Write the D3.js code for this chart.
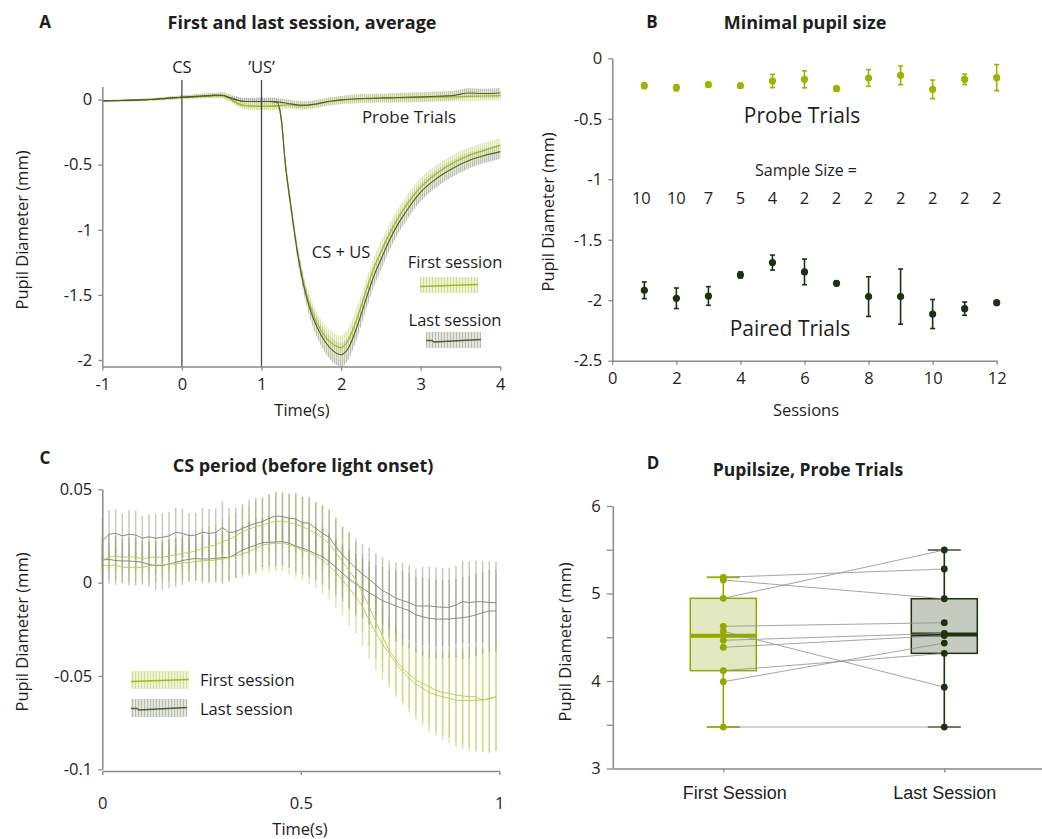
<!DOCTYPE html>
<html><head><meta charset="utf-8">
<script src="https://cdn.jsdelivr.net/npm/d3@7"></script>
<style>
body{margin:0;background:#fff;}
svg{display:block;}
</style></head><body>
<svg id="fig" width="1042" height="839" xmlns="http://www.w3.org/2000/svg"></svg>
<script>
// ---------------- DATA ----------------
// Panel A: average traces (time in s, pupil diameter in mm)
const aTime = [-1, -0.8, -0.6, -0.4, -0.2, 0, 0.2, 0.4, 0.5, 0.6, 0.7, 0.8, 1.0, 1.1, 1.2,
  1.25, 1.3, 1.35, 1.4, 1.45, 1.5, 1.55, 1.6, 1.65, 1.7,
  1.8, 1.9, 2.0, 2.1, 2.2, 2.3, 2.4, 2.5, 2.6, 2.7, 2.8,
  3.0, 3.2, 3.4, 3.6, 3.8, 4.0];
const aProbeFirst = [-0.010, -0.008, -0.005, 0.000, 0.008, 0.016, 0.022, 0.030, 0.030, 0.008, -0.030, -0.048, -0.052, -0.052, -0.050,
  -0.046, -0.042, -0.040, -0.043, -0.047, -0.049, -0.048, -0.045, -0.040, -0.035,
  -0.022, -0.012, -0.005, 0.000, 0.004, 0.006, 0.008, 0.010, 0.011, 0.012, 0.013,
  0.015, 0.018, 0.020, 0.024, 0.027, 0.030];
const aProbeLast = [-0.010, -0.008, -0.005, 0.000, 0.009, 0.018, 0.025, 0.032, 0.033, 0.015, -0.005, -0.015, -0.015, -0.015, -0.018,
  -0.022, -0.027, -0.032, -0.037, -0.041, -0.043, -0.043, -0.041, -0.037, -0.032,
  -0.020, -0.010, -0.003, 0.002, 0.006, 0.008, 0.010, 0.012, 0.013, 0.015, 0.017,
  0.020, 0.025, 0.030, 0.050, 0.046, 0.050];
const aPairedFirst = [-0.010, -0.008, -0.005, 0.000, 0.008, 0.016, 0.022, 0.030, 0.030, 0.008, -0.030, -0.048, -0.052, -0.052, -0.045,
  -0.15, -0.49, -0.73, -0.95, -1.16, -1.32, -1.46, -1.56, -1.65, -1.72,
  -1.82, -1.88, -1.905, -1.835, -1.68, -1.494, -1.31, -1.17, -1.04, -0.927, -0.83,
  -0.673, -0.568, -0.49, -0.431, -0.39, -0.35];
const aPairedLast = [-0.010, -0.008, -0.005, 0.000, 0.009, 0.018, 0.025, 0.032, 0.033, 0.015, -0.005, -0.015, -0.015, -0.015, -0.025,
  -0.16, -0.50, -0.74, -0.96, -1.17, -1.34, -1.48, -1.59, -1.68, -1.75,
  -1.86, -1.93, -1.96, -1.898, -1.745, -1.558, -1.374, -1.23, -1.09, -0.972, -0.875,
  -0.711, -0.606, -0.529, -0.47, -0.43, -0.40];
const aErrProbe = [0.006, 0.007, 0.008, 0.009, 0.010, 0.012, 0.015, 0.018, 0.020, 0.022, 0.024, 0.026, 0.028, 0.029, 0.030,
  0.030, 0.030, 0.030, 0.030, 0.030, 0.030, 0.030, 0.030, 0.030, 0.030,
  0.030, 0.030, 0.031, 0.031, 0.032, 0.032, 0.033, 0.033, 0.034, 0.034, 0.035,
  0.035, 0.036, 0.036, 0.037, 0.037, 0.038];
const aErrPaired = [0.006, 0.007, 0.008, 0.009, 0.010, 0.012, 0.015, 0.018, 0.020, 0.022, 0.024, 0.026, 0.028, 0.029, 0.030,
  0.035, 0.040, 0.045, 0.050, 0.055, 0.060, 0.065, 0.070, 0.075, 0.080,
  0.085, 0.090, 0.092, 0.090, 0.088, 0.085, 0.082, 0.080, 0.078, 0.076, 0.074,
  0.070, 0.067, 0.064, 0.061, 0.058, 0.055];
const aXTicks = [-1, 0, 1, 2, 3, 4];
const aYTicks = [0, -0.5, -1, -1.5, -2];

// Panel B: minimal pupil size per session
const bSessions = [1, 2, 3, 4, 5, 6, 7, 8, 9, 10, 11, 12];
const bProbeMean = [-0.227, -0.243, -0.218, -0.227, -0.188, -0.174, -0.251, -0.163, -0.141, -0.257, -0.174, -0.160];
const bProbeErr = [0.023, 0.025, 0.020, 0.020, 0.055, 0.070, 0.020, 0.069, 0.077, 0.077, 0.043, 0.108];
const bPairedMean = [-1.918, -1.984, -1.965, -1.791, -1.689, -1.766, -1.860, -1.970, -1.970, -2.114, -2.070, -2.020];
const bPairedErr = [0.069, 0.085, 0.077, 0.025, 0.062, 0.106, 0.020, 0.164, 0.228, 0.120, 0.055, 0.005];
const bSampleSize = [10, 10, 7, 5, 4, 2, 2, 2, 2, 2, 2, 2];
const bXTicks = [0, 2, 4, 6, 8, 10, 12];
const bYTicks = [0, -0.5, -1, -1.5, -2, -2.5];

// Panel C: CS period, 60 samples between 0 and 1 s
const cSamples = 60;
const cLastA = [0.0223, 0.0259, 0.0264, 0.0250, 0.0259, 0.0255, 0.0238, 0.0246, 0.0238, 0.0243,
  0.0250, 0.0270, 0.0264, 0.0252, 0.0255, 0.0270, 0.0264, 0.0268, 0.0295, 0.0268,
  0.0273, 0.0291, 0.0304, 0.0318, 0.0327, 0.0345, 0.0357, 0.0354, 0.0345, 0.0341,
  0.0321, 0.0318, 0.0291, 0.0264, 0.0243, 0.0193, 0.0148, 0.0113, 0.0077, 0.0045,
  0.0018, -0.0013, -0.0043, -0.0061, -0.0084, -0.0096, -0.0107, -0.0125, -0.0125, -0.0125,
  -0.0129, -0.0132, -0.0132, -0.0120, -0.0102, -0.0107, -0.0102, -0.0102, -0.0107, -0.0107];
const cLastB = [0.0121, 0.0125, 0.0118, 0.0116, 0.0116, 0.0113, 0.0109, 0.0098, 0.0091, 0.0091,
  0.0100, 0.0109, 0.0118, 0.0125, 0.0129, 0.0127, 0.0127, 0.0130, 0.0134, 0.0134,
  0.0154, 0.0175, 0.0188, 0.0202, 0.0214, 0.0216, 0.0218, 0.0220, 0.0211, 0.0196,
  0.0184, 0.0171, 0.0154, 0.0139, 0.0113, 0.0082, 0.0050, 0.0020, -0.0007, -0.0030,
  -0.0054, -0.0075, -0.0096, -0.0111, -0.0125, -0.0138, -0.0150, -0.0173, -0.0182, -0.0191,
  -0.0195, -0.0195, -0.0195, -0.0191, -0.0188, -0.0182, -0.0173, -0.0161, -0.0152, -0.0152];
const cFirstA = [0.0121, 0.0136, 0.0143, 0.0136, 0.0136, 0.0139, 0.0125, 0.0136, 0.0136, 0.0136,
  0.0143, 0.0148, 0.0157, 0.0161, 0.0170, 0.0184, 0.0193, 0.0202, 0.0220, 0.0232,
  0.0250, 0.0273, 0.0286, 0.0300, 0.0309, 0.0321, 0.0327, 0.0330, 0.0321, 0.0313,
  0.0300, 0.0282, 0.0264, 0.0238, 0.0207, 0.0161, 0.0113, 0.0064, 0.0014, -0.0057,
  -0.0129, -0.0209, -0.0289, -0.0361, -0.0414, -0.0459, -0.0491, -0.0521, -0.0539, -0.0557,
  -0.0579, -0.0588, -0.0593, -0.0602, -0.0607, -0.0611, -0.0611, -0.0629, -0.0623, -0.0611];
const cFirstB = [0.0095, 0.0089, 0.0095, 0.0082, 0.0082, 0.0082, 0.0082, 0.0089, 0.0095, 0.0095,
  0.0100, 0.0100, 0.0107, 0.0107, 0.0113, 0.0118, 0.0118, 0.0121, 0.0127, 0.0134,
  0.0143, 0.0154, 0.0166, 0.0184, 0.0202, 0.0207, 0.0211, 0.0211, 0.0202, 0.0189,
  0.0175, 0.0161, 0.0143, 0.0121, 0.0089, 0.0054, 0.0014, -0.0030, -0.0075, -0.0129,
  -0.0200, -0.0268, -0.0330, -0.0379, -0.0432, -0.0477, -0.0513, -0.0543, -0.0566, -0.0589,
  -0.0602, -0.0611, -0.0620, -0.0629, -0.0632, -0.0632, -0.0629, -0.0629, -0.0620, -0.0611];
const cErrLast = [0.012, 0.013, 0.013, 0.012, 0.013, 0.013, 0.012, 0.012, 0.013, 0.013,
  0.013, 0.013, 0.013, 0.012, 0.012, 0.013, 0.013, 0.013, 0.014, 0.013,
  0.013, 0.013, 0.014, 0.014, 0.013, 0.013, 0.013, 0.013, 0.013, 0.014,
  0.014, 0.014, 0.014, 0.015, 0.015, 0.015, 0.015, 0.016, 0.016, 0.016,
  0.017, 0.017, 0.018, 0.018, 0.019, 0.020, 0.020, 0.020, 0.021, 0.021,
  0.021, 0.021, 0.021, 0.021, 0.022, 0.022, 0.022, 0.022, 0.022, 0.022];
const cErrFirst = [0.007, 0.007, 0.008, 0.008, 0.008, 0.008, 0.008, 0.009, 0.009, 0.009,
  0.009, 0.009, 0.010, 0.010, 0.010, 0.011, 0.011, 0.011, 0.012, 0.012,
  0.012, 0.013, 0.013, 0.014, 0.014, 0.015, 0.015, 0.015, 0.016, 0.016,
  0.016, 0.017, 0.017, 0.018, 0.018, 0.019, 0.019, 0.020, 0.020, 0.021,
  0.021, 0.020, 0.019, 0.018, 0.018, 0.018, 0.018, 0.019, 0.020, 0.021,
  0.022, 0.023, 0.024, 0.025, 0.026, 0.027, 0.028, 0.028, 0.029, 0.029];
const cXTicks = [0, 0.5, 1];
const cYTicks = [0.05, 0, -0.05, -0.1];

// Panel D: pupil size in probe trials, paired per animal
const dCategories = ["First Session", "Last Session"];
const dFirst = [5.185, 5.154, 4.945, 4.625, 4.568, 4.465, 4.385, 4.118, 3.992, 3.474];
const dLast  = [5.280, 4.940, 5.497, 4.666, 3.930, 4.545, 4.520, 4.316, 4.434, 3.474];
const dYTicks = [3, 3.5, 4, 4.5, 5, 5.5, 6];

// ---------------- DRAWING ----------------
const FONT = '"Open Sans", "Noto Sans", sans-serif';
const ARIAL = '"Liberation Sans", Arial, sans-serif';
const AXIS = '#8a8a8a';
const TXT = '#1e1e1e';
const GREEN = '#a2b828', DARKLINE = '#4d5f33';
const svg = d3.select('#fig');
const fmt = d => String(d);

const defs = svg.append('defs');
function hatch(id, bg, fg, w) {
  const p = defs.append('pattern').attr('id', id).attr('patternUnits', 'userSpaceOnUse')
    .attr('width', w).attr('height', 10);
  p.append('rect').attr('width', w).attr('height', 10).attr('fill', bg);
  p.append('line').attr('x1', 0.5).attr('x2', 0.5).attr('y1', 0).attr('y2', 10)
    .attr('stroke', fg).attr('stroke-width', 0.9);
}
hatch('hFirst', '#e7eecb', '#c9d77f', 2);
hatch('hLast', '#dcdfd7', '#a6ab9f', 2);
hatch('hFirstL', '#eef2d6', '#cfdc8c', 3);
hatch('hLastL', '#e3e5df', '#b3b8ab', 3);

function styleAxis(g, size, family) {
  g.attr('font-family', family || FONT).attr('font-size', size);
  g.select('.domain').attr('stroke', AXIS).attr('stroke-width', 1.5);
  g.selectAll('.tick line').attr('stroke', AXIS).attr('stroke-width', 1.3);
  g.selectAll('.tick text').attr('fill', TXT);
}
function text(x, y, s, opt = {}) {
  const t = svg.append('text').attr('x', x).attr('y', y).text(s)
    .attr('font-family', opt.family || FONT).attr('font-size', opt.size || 16)
    .attr('font-weight', opt.weight || 'normal').attr('fill', opt.fill || TXT)
    .attr('text-anchor', opt.anchor || 'middle');
  if (opt.rotate) t.attr('transform', `rotate(-90,${x},${y})`);
  return t;
}

// ===== Panel A =====
const xA = d3.scaleLinear([-1, 4], [102.3, 500.3]);
const yA = d3.scaleLinear([-2.05, 0.1], [366.5, 86.5]);
const gA = svg.append('g');
function band(g, vals, errs, fill, op) {
  const area = d3.area().curve(d3.curveMonotoneX)
    .x((d, i) => xA(aTime[i])).y0((d, i) => yA(vals[i] - errs[i])).y1((d, i) => yA(vals[i] + errs[i]));
  g.append('path').attr('d', area(vals)).attr('fill', fill).attr('fill-opacity', op);
}
function lineA(g, vals, color, w) {
  const l = d3.line().curve(d3.curveMonotoneX).x((d, i) => xA(aTime[i])).y(d => yA(d));
  g.append('path').attr('d', l(vals)).attr('fill', 'none').attr('stroke', color).attr('stroke-width', w);
}
band(gA, aProbeLast, aErrProbe, 'url(#hLast)', 0.8);
band(gA, aPairedLast, aErrPaired, 'url(#hLast)', 0.8);
band(gA, aProbeFirst, aErrProbe, 'url(#hFirst)', 0.6);
band(gA, aPairedFirst, aErrPaired, 'url(#hFirst)', 0.6);
lineA(gA, aProbeFirst, GREEN, 1.2);
lineA(gA, aPairedFirst, GREEN, 1.2);
lineA(gA, aProbeLast, DARKLINE, 1.1);
lineA(gA, aPairedLast, DARKLINE, 1.1);
[0, 1].forEach(t => gA.append('line').attr('x1', xA(t)).attr('x2', xA(t)).attr('y1', 80).attr('y2', yA(-2.05))
  .attr('stroke', '#4a4a4a').attr('stroke-width', 1.3));
styleAxis(gA.append('g').attr('transform', `translate(0,${yA(-2.05)})`)
  .call(d3.axisBottom(xA).tickValues(aXTicks).tickFormat(fmt).tickSize(4).tickSizeOuter(0).tickPadding(8)), 16.5);
styleAxis(gA.append('g').attr('transform', `translate(${xA(-1)},0)`)
  .call(d3.axisLeft(yA).tickValues(aYTicks).tickFormat(fmt).tickSize(4).tickSizeOuter(0).tickPadding(6)), 16.5);
text(45, 28, 'A', { size: 17, weight: 'bold' });
text(302, 29, 'First and last session, average', { size: 18, weight: 'bold' });
text(xA(0), 73, 'CS', { size: 16.5 });
text(xA(1), 73, '\u2019US\u2019', { size: 16.5 });
text(409, 123, 'Probe Trials', { size: 17 });
text(341, 258, 'CS + US', { size: 16.5 });
text(302, 416, 'Time(s)', { size: 16.5 });
text(28, 230, 'Pupil Diameter (mm)', { size: 16.5, rotate: true });
// legend A
text(455, 268, 'First session', { size: 16.5 });
text(455, 326, 'Last session', { size: 16.5 });
gA.append('rect').attr('x', 420).attr('y', 277).attr('width', 58).attr('height', 16).attr('fill', 'url(#hFirstL)');
gA.append('line').attr('x1', 420).attr('x2', 478).attr('y1', 286.5).attr('y2', 284.5).attr('stroke', GREEN).attr('stroke-width', 1.3);
gA.append('rect').attr('x', 426).attr('y', 332).attr('width', 55).attr('height', 16).attr('fill', 'url(#hLastL)');
gA.append('path').attr('d', 'M426,340.5 L432,340.5 L434,342 L481,339.5').attr('fill', 'none').attr('stroke', DARKLINE).attr('stroke-width', 1.3);

// ===== Panel B =====
const xB = d3.scaleLinear([0, 12], [612.3, 996.7]);
const yB = d3.scaleLinear([-2.5, 0], [360.7, 58.3]);
const gB = svg.append('g');
styleAxis(gB.append('g').attr('transform', `translate(0,${yB(-2.5)})`)
  .call(d3.axisBottom(xB).tickValues(bXTicks).tickFormat(fmt).tickSize(4).tickSizeOuter(0).tickPadding(8)), 16.5);
styleAxis(gB.append('g').attr('transform', `translate(${xB(0)},0)`)
  .call(d3.axisLeft(yB).tickValues(bYTicks).tickFormat(fmt).tickSize(4).tickSizeOuter(0).tickPadding(6)), 16.5);
function errPoints(g, means, errs, color) {
  bSessions.forEach((s, i) => {
    const x = xB(s), y0 = yB(means[i] - errs[i]), y1 = yB(means[i] + errs[i]);
    g.append('line').attr('x1', x).attr('x2', x).attr('y1', y0).attr('y2', y1).attr('stroke', color).attr('stroke-width', 1.6);
    [y0, y1].forEach(yy => g.append('line').attr('x1', x - 2.5).attr('x2', x + 2.5).attr('y1', yy).attr('y2', yy)
      .attr('stroke', color).attr('stroke-width', 1.6));
    g.append('circle').attr('cx', x).attr('cy', yB(means[i])).attr('r', 3.6).attr('fill', color);
  });
}
errPoints(gB, bProbeMean, bProbeErr, '#9db300');
errPoints(gB, bPairedMean, bPairedErr, '#1d3110');
text(652, 28, 'B', { size: 17, weight: 'bold' });
text(805, 29, 'Minimal pupil size', { size: 18, weight: 'bold' });
text(802, 123, 'Probe Trials', { size: 21 });
text(790, 336, 'Paired Trials', { size: 21 });
text(806, 176, 'Sample Size =', { size: 16 });
bSessions.forEach((s, i) => text(xB(s) - (i === 0 ? 3 : 0), 204, String(bSampleSize[i]), { size: 16.5 }));
text(806, 416, 'Sessions', { size: 16.5 });
text(554, 212, 'Pupil Diameter (mm)', { size: 16.5, rotate: true });

// ===== Panel C =====
const xC = d3.scaleLinear([0, 1], [102.3, 499.3]);
const yC = d3.scaleLinear([-0.1, 0.05], [769.3, 489.3]);
const cTime = d3.range(cSamples).map(i => i / (cSamples - 0.5));
const gC = svg.append('g');
function cBars(vals, errs, color, op) {
  vals.forEach((v, i) => gC.append('line').attr('x1', xC(cTime[i])).attr('x2', xC(cTime[i]))
    .attr('y1', yC(v - errs[i])).attr('y2', yC(v + errs[i]))
    .attr('stroke', color).attr('stroke-width', 1.5).attr('stroke-opacity', op));
}
cBars(cFirstA, cErrFirst, '#bccd5e', 0.5);
cBars(cFirstB, cErrFirst, '#bccd5e', 0.5);
cBars(cLastA, cErrLast, '#8d957e', 0.5);
cBars(cLastB, cErrLast, '#8d957e', 0.5);
const lineC = d3.line().x((d, i) => xC(cTime[i])).y(d => yC(d));
[[cLastA, '#868b80'], [cLastB, '#868b80'], [cFirstA, '#bccd64'], [cFirstB, '#bccd64']].forEach(([v, c]) =>
  gC.append('path').attr('d', lineC(v)).attr('fill', 'none').attr('stroke', c).attr('stroke-width', 1));
styleAxis(gC.append('g').attr('transform', `translate(0,771)`)
  .call(d3.axisBottom(xC).tickValues(cXTicks).tickFormat(fmt).tickSize(4).tickSizeOuter(0).tickPadding(22)), 16.5);
styleAxis(gC.append('g').attr('transform', `translate(${xC(0)},0)`)
  .call(d3.axisLeft(yC).tickValues(cYTicks).tickFormat(fmt).tickSize(4).tickSizeOuter(0).tickPadding(6)), 16.5);
text(45, 464, 'C', { size: 17, weight: 'bold' });
text(303, 472, 'CS period (before light onset)', { size: 18, weight: 'bold' });
text(300, 835, 'Time(s)', { size: 16.5 });
text(28, 632, 'Pupil Diameter (mm)', { size: 16.5, rotate: true });
// legend C
gC.append('rect').attr('x', 131).attr('y', 671).attr('width', 58).attr('height', 18).attr('fill', 'url(#hFirstL)');
gC.append('line').attr('x1', 131).attr('x2', 189).attr('y1', 681.5).attr('y2', 679.5).attr('stroke', GREEN).attr('stroke-width', 1.3);
gC.append('rect').attr('x', 131).attr('y', 699).attr('width', 56).attr('height', 18).attr('fill', 'url(#hLastL)');
gC.append('path').attr('d', 'M131,708.5 L137,708.5 L139,710 L187,707.5').attr('fill', 'none').attr('stroke', DARKLINE).attr('stroke-width', 1.3);
text(200, 686, 'First session', { size: 16.5, anchor: 'start' });
text(200, 715, 'Last session', { size: 16.5, anchor: 'start' });

// ===== Panel D =====
const xD = d3.scaleLinear([0.5, 2.5], [612.8, 1054.8]);
const yD = d3.scaleLinear([3, 6], [768.5, 506]);
const gD = svg.append('g');
const dxAxis = gD.append('g').attr('transform', `translate(0,${yD(3)})`)
  .call(d3.axisBottom(xD).tickValues([1, 2]).tickFormat((d, i) => dCategories[i]).tickSize(4).tickSizeOuter(0).tickPadding(14));
styleAxis(dxAxis, 18, ARIAL);
dxAxis.selectAll('.tick text').attr('dx', (d, i) => i === 0 ? 11 : 0);
styleAxis(gD.append('g').attr('transform', `translate(${xD(0.5)},0)`)
  .call(d3.axisLeft(yD).tickValues(dYTicks).tickFormat(d => Number.isInteger(d) ? String(d) : '').tickSize(6).tickSizeOuter(0).tickPadding(6)), 16.5);
function boxStats(vals) {
  const s = vals.slice().sort(d3.ascending);
  const h = Math.floor(s.length / 2);
  return { min: s[0], max: s[s.length - 1], med: d3.median(s),
    q1: d3.median(s.slice(0, h)), q3: d3.median(s.slice(s.length - h)) };
}
const groups = [
  { vals: dFirst, pos: 1, stroke: '#93a900', fill: '#e2e8c1', cap: '#9db21a' },
  { vals: dLast, pos: 2, stroke: '#1e3110', fill: '#c6cbc0', cap: '#6f7865' }
];
const bw = 33, cw = 16.5;
groups.forEach(gr => {
  const st = boxStats(gr.vals), cx = xD(gr.pos);
  gD.append('rect').attr('x', cx - bw).attr('y', yD(st.q3)).attr('width', 2 * bw).attr('height', yD(st.q1) - yD(st.q3))
    .attr('fill', gr.fill).attr('stroke', gr.stroke).attr('stroke-width', 1.5);
  gD.append('line').attr('x1', cx - bw).attr('x2', cx + bw).attr('y1', yD(st.med)).attr('y2', yD(st.med))
    .attr('stroke', gr.stroke).attr('stroke-width', 4);
  gD.append('line').attr('x1', cx).attr('x2', cx).attr('y1', yD(st.q3)).attr('y2', yD(st.max)).attr('stroke', gr.stroke).attr('stroke-width', 1.6);
  gD.append('line').attr('x1', cx).attr('x2', cx).attr('y1', yD(st.q1)).attr('y2', yD(st.min)).attr('stroke', gr.stroke).attr('stroke-width', 1.6);
  [st.min, st.max].forEach(v => gD.append('line').attr('x1', cx - cw).attr('x2', cx + cw).attr('y1', yD(v)).attr('y2', yD(v))
    .attr('stroke', gr.cap).attr('stroke-width', 2));
});
dFirst.forEach((v, i) => gD.append('line').attr('x1', xD(1)).attr('x2', xD(2)).attr('y1', yD(v)).attr('y2', yD(dLast[i]))
  .attr('stroke', '#8f8f8f').attr('stroke-width', 0.9).attr('stroke-opacity', 0.9));
groups.forEach(gr => gr.vals.forEach(v => gD.append('circle').attr('cx', xD(gr.pos)).attr('cy', yD(v)).attr('r', 3.4).attr('fill', gr.stroke)));
text(653, 469, 'D', { size: 17, weight: 'bold' });
text(808, 476, 'Pupilsize, Probe Trials', { size: 17.5, weight: 'bold' });
text(571, 642, 'Pupil Diameter (mm)', { size: 16.5, rotate: true });
</script>
</body></html>
